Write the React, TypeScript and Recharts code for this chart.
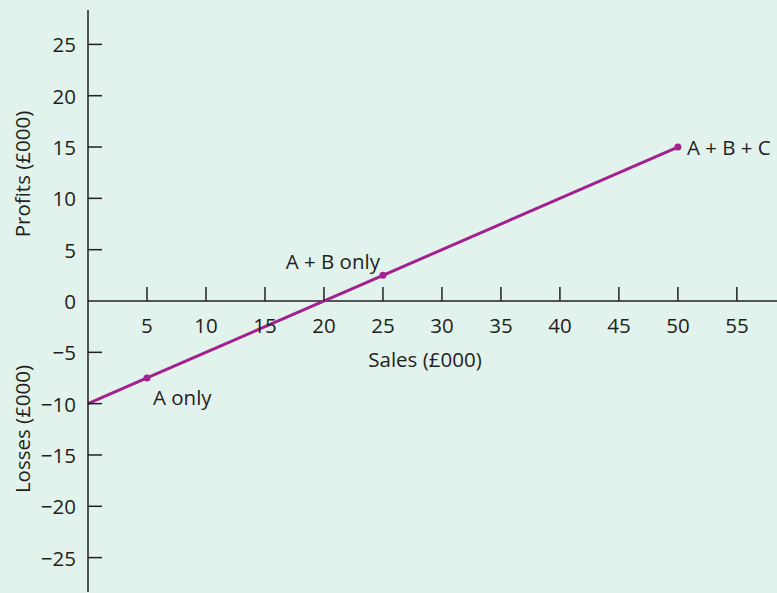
import React from 'react';
import {
  LineChart,
  Line,
  XAxis,
  YAxis,
  ReferenceLine,
  LabelList,
  Customized,
} from 'recharts';

// break-even style chart: sales vs profit/loss
const salesK = [0, 5, 25, 50];
const profitK = [-10, -7.5, 2.5, 15];
const pointLabels = ['', 'A only', 'A + B only', 'A + B + C'];

const xTicks = [5, 10, 15, 20, 25, 30, 35, 40, 45, 50, 55];
const yTicks = [-25, -20, -15, -10, -5, 0, 5, 10, 15, 20, 25];

const W = 777;
const H = 593;
const TOP = 10;
const XAXIS_H = 1;
const AXIS_X = 88;
const ZERO_Y = TOP + (H - TOP - XAXIS_H) / 2;

const INK = '#231f20';
const PURPLE = '#a3218e';
const BG = '#e2f2ec';
const FONT = '"Open Sans", sans-serif';
const FS = 20.5;

const data = salesK.map((s, i) => ({ sales: s, profit: profitK[i], label: pointLabels[i] }));

const fmt = (v: number) => (v < 0 ? `\u2212${Math.abs(v)}` : `${v}`);

const YTick = ({ y, payload }: any) => (
  <g>
    {payload.value !== 0 && (
      <line x1={AXIS_X} x2={AXIS_X + 14} y1={y} y2={y} stroke={INK} strokeWidth={1.5} />
    )}
    <text
      x={AXIS_X - 12}
      y={y}
      textAnchor="end"
      dominantBaseline="central"
      fontSize={FS}
      fontFamily={FONT}
      fill={INK}
    >
      {fmt(payload.value)}
    </text>
  </g>
);

const XTick = ({ x, payload }: any) => (
  <g>
    <line x1={x} x2={x} y1={ZERO_Y - 14} y2={ZERO_Y} stroke={INK} strokeWidth={1.5} />
    <text
      x={x}
      y={ZERO_Y + 24}
      textAnchor="middle"
      dominantBaseline="central"
      fontSize={FS}
      fontFamily={FONT}
      fill={INK}
    >
      {payload.value}
    </text>
  </g>
);

const Dot = ({ cx, cy, payload }: any) =>
  payload.label ? <circle cx={cx} cy={cy} r={3.5} fill={PURPLE} /> : null;

const PointLabel = ({ x, y, value }: any) => {
  if (!value) return null;
  let dx = 9;
  let dy = 0;
  let anchor = 'start';
  if (value === 'A only') {
    dx = 6;
    dy = 19;
  } else if (value === 'A + B only') {
    dx = -3;
    dy = -14;
    anchor = 'end';
  }
  return (
    <text
      x={x + dx}
      y={y + dy}
      textAnchor={anchor}
      dominantBaseline="central"
      fontSize={FS}
      fontFamily={FONT}
      fill={INK}
    >
      {value}
    </text>
  );
};

const Titles = () => (
  <g fontSize={FS} fontFamily={FONT} fill={INK}>
    <text x={22} y={174} textAnchor="middle" dominantBaseline="central" transform="rotate(-90 22 174)">
      Profits (£000)
    </text>
    <text x={22} y={429} textAnchor="middle" dominantBaseline="central" transform="rotate(-90 22 429)">
      Losses (£000)
    </text>
    <text x={425} y={359} textAnchor="middle" dominantBaseline="central">
      Sales (£000)
    </text>
  </g>
);

export default function App() {
  return (
    <div style={{ width: W, height: H, background: BG }}>
      <style>{'body{margin:0}'}</style>
      <LineChart width={W} height={H} data={data} margin={{ top: TOP, right: 0, bottom: 0, left: 0 }}>
        <XAxis
          dataKey="sales"
          type="number"
          domain={[0, 58.4]}
          ticks={xTicks}
          height={XAXIS_H}
          axisLine={false}
          tickLine={false}
          tick={<XTick />}
          interval={0}
        />
        <YAxis
          type="number"
          domain={[-28.35, 28.35]}
          ticks={yTicks}
          width={AXIS_X}
          axisLine={{ stroke: INK, strokeWidth: 1.5 }}
          tickLine={false}
          tick={<YTick />}
          interval={0}
        />
        <ReferenceLine y={0} stroke={INK} strokeWidth={1.5} />
        <Line
          dataKey="profit"
          type="linear"
          stroke={PURPLE}
          strokeWidth={3}
          dot={<Dot />}
          activeDot={false}
          isAnimationActive={false}
        >
          <LabelList dataKey="label" content={<PointLabel />} />
        </Line>
        <Customized component={<Titles />} />
      </LineChart>
    </div>
  );
}
